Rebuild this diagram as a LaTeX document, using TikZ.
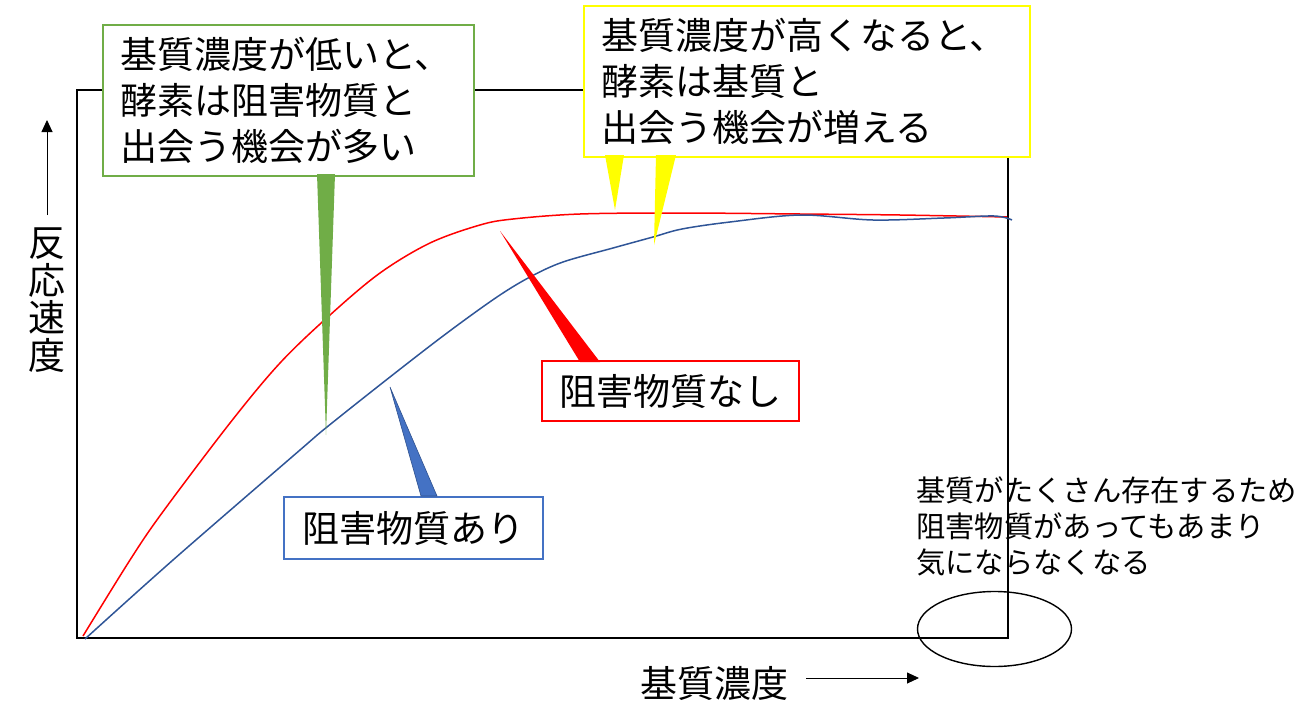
\documentclass[tikz,border=0pt]{standalone}
\usepackage{fontspec}
\setmainfont{Noto Sans CJK JP}
\usetikzlibrary{arrows.meta}
\definecolor{gcol}{HTML}{70AD47}
\definecolor{ycol}{HTML}{FFFF00}
\definecolor{rcol}{HTML}{FF0000}
\definecolor{bcol}{HTML}{4472C4}
\definecolor{bdark}{HTML}{2F528F}
\definecolor{bcurve}{HTML}{2F5597}
\tikzset{
  callbox/.style={draw, fill=white, line width=2pt, inner ysep=0pt},
  bigtext/.style={font=\fontsize{37pt}{46pt}\selectfont},
  smalltext/.style={font=\fontsize{29.3pt}{36pt}\selectfont},
  framebox/.style={line width=1.6pt, black},
  curve/.style={line width=1.5pt},
  axisarrow/.style={line width=0.9pt, -{Triangle[length=12pt,width=11pt]}},
}
\begin{document}
\begin{tikzpicture}[x=1pt,y=-1pt]
\useasboundingbox (0,0) rectangle (1312,725);
% frame
\draw[framebox] (77,90) rectangle (1008,638);
% curves
\draw[curve, rcol] plot[smooth, tension=0.55] coordinates {(83,636) (130,560) (162,513) (230,423) (280,363) (330,315) (380,273) (430,243) (480,225) (513,219) (580,214) (680,213) (800,214) (900,215) (1007,217)};
\draw[curve, bcurve] plot[smooth, tension=0.55] coordinates {(85,639) (173,560) (300,450) (327,427) (390,377) (447,333) (497,297) (530,277) (563,262) (613,248) (653,237) (682,229) (730,222) (801,215) (873,220) (944,218) (994,216) (1012,220)};
% pointer tips
\coordinate (gtip) at (326,435);
\coordinate (ytip1) at (615,210);
\coordinate (ytip2) at (654,245);
\coordinate (rtip) at (500,231);
\coordinate (btip) at (390,387);
% callout boxes
\node[callbox, draw=gcol, bigtext, anchor=north west, minimum height=151pt, text width=337pt, inner xsep=17pt, align=left] (gbox) at (102,24) {基質濃度が低いと、\\酵素は阻害物質と\\出会う機会が多い};
\node[callbox, draw=ycol, bigtext, anchor=north west, minimum height=151pt, text width=412pt, inner xsep=17pt, align=left] (ybox) at (583,5) {基質濃度が高くなると、\\酵素は基質と\\出会う機会が増える};
\node[callbox, draw=rcol, bigtext, minimum width=257pt, minimum height=60pt] (rbox) at (670.5,391) {阻害物質なし};
\node[callbox, draw=bcol, bigtext, minimum width=259pt, minimum height=62pt] (bbox) at (413.5,528) {阻害物質あり};
% pointers
\fill[gcol] (317,174) -- (335,174) -- (gtip) -- cycle;
\fill[ycol] (605,155) -- (624,155) -- (ytip1) -- cycle;
\fill[ycol] (656,155) -- (676,155) -- (ytip2) -- cycle;
\fill[rcol] (580,362) -- (600,362) -- (rtip) -- cycle;
\filldraw[fill=bcol, draw=bdark, line width=0.6pt] (421,496) -- (437,496) -- (btip) -- cycle;
% axis labels
\node[inner sep=0pt, align=center, font=\fontsize{37pt}{37.5pt}\selectfont] (ylab) at (47,300) {反\\応\\速\\度};
\coordinate (yarrs) at (47,215);
\coordinate (yarre) at (47,120);
\draw[axisarrow] (yarrs) -- (yarre);
\node[bigtext, inner sep=0pt] (xlab) at (714.5,683.5) {基質濃度};
\coordinate (xarrs) at (806,678);
\coordinate (xarre) at (919,678);
\draw[axisarrow] (xarrs) -- (xarre);
% note
\node[smalltext, anchor=north west, inner sep=0pt, align=left] (note) at (916,477) {基質がたくさん存在するため\\阻害物質があってもあまり\\気にならなくなる};
\draw[line width=1.4pt] (994.5,629) ellipse [x radius=77, y radius=37.5];
\end{tikzpicture}
\end{document}
